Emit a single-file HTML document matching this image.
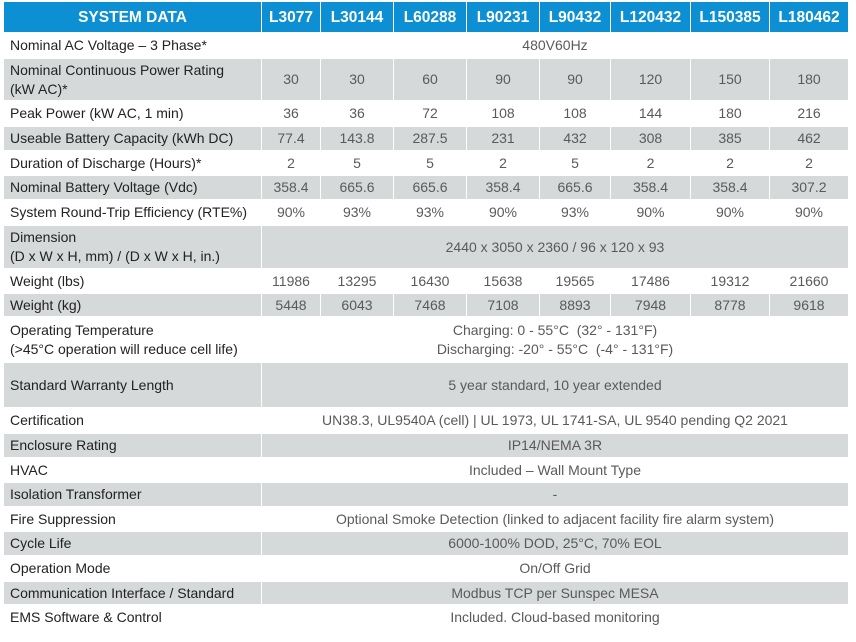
<!DOCTYPE html>
<html><head><meta charset="utf-8"><style>
body{margin:0;width:856px;height:642px;background:#fff;position:relative;overflow:hidden;font-family:"Liberation Sans",sans-serif}
.c{position:absolute;display:flex;align-items:center;box-sizing:border-box;font-size:14px;color:#5a5a5a;justify-content:center;text-align:center;line-height:19px;white-space:nowrap}
.l{justify-content:flex-start;text-align:left;color:#222;padding-left:6px}
.h{background:#0d8fd3;color:#fff;font-weight:bold;font-size:15.5px}
.g{background:#d5d9d9}
</style></head><body>
<script>
var cols=[4,261,320,393,466,539,610,690,769,848];
var heads=["SYSTEM DATA","L3077","L30144","L60288","L90231","L90432","L120432","L150385","L180462"];
var rows=[
[32,57,"Nominal AC Voltage – 3 Phase*",["480V60Hz"]],
[57,100,"Nominal Continuous Power Rating<br>(kW AC)*",["30","30","60","90","90","120","150","180"]],
[100,125,"Peak Power (kW AC, 1 min)",["36","36","72","108","108","144","180","216"]],
[125,150,"Useable Battery Capacity (kWh DC)",["77.4","143.8","287.5","231","432","308","385","462"]],
[150,174,"Duration of Discharge (Hours)*",["2","5","5","2","5","2","2","2"]],
[174,199,"Nominal Battery Voltage (Vdc)",["358.4","665.6","665.6","358.4","665.6","358.4","358.4","307.2"]],
[199,224,"System Round-Trip Efficiency (RTE%)",["90%","93%","93%","90%","93%","90%","90%","90%"]],
[224,268,"Dimension<br>(D x W x H, mm) / (D x W x H, in.)",["2440 x 3050 x 2360 / 96 x 120 x 93"]],
[268,292,"Weight (lbs)",["11986","13295","16430","15638","19565","17486","19312","21660"]],
[292,316,"Weight (kg)",["5448","6043","7468","7108","8893","7948","8778","9618"]],
[316,361,"Operating Temperature<br>(&gt;45°C operation will reduce cell life)",["Charging: 0 - 55°C&nbsp; (32° - 131°F)<br>Discharging: -20° - 55°C&nbsp; (-4° - 131°F)"]],
[361,407,"Standard Warranty Length",["5 year standard, 10 year extended"]],
[407,432,"Certification",["UN38.3, UL9540A (cell) | UL 1973, UL 1741-SA, UL 9540 pending Q2 2021"]],
[432,457,"Enclosure Rating",["IP14/NEMA 3R"]],
[457,481,"HVAC",["Included – Wall Mount Type"]],
[481,506,"Isolation Transformer",["-"]],
[506,530,"Fire Suppression",["Optional Smoke Detection (linked to adjacent facility fire alarm system)"]],
[530,555,"Cycle Life",["6000-100% DOD, 25°C, 70% EOL"]],
[555,580,"Operation Mode",["On/Off Grid"]],
[580,604,"Communication Interface / Standard",["Modbus TCP per Sunspec MESA"]],
[604,629,"EMS Software & Control",["Included. Cloud-based monitoring"]]
];
function cell(x,y,w,h,cls,html){
 var d=document.createElement('div');
 d.className='c '+cls;
 d.style.left=x+'px';d.style.top=y+'px';d.style.width=w+'px';d.style.height=h+'px';
 d.innerHTML=html;
 document.body.appendChild(d);return d;
}
for(var i=0;i<heads.length;i++){
 var d=cell(cols[i]+(i?1:0),2,cols[i+1]-cols[i]-(i?1:0),30,'h',heads[i]);
 
 
}
rows.forEach(function(r,ri){
 var g=(ri%2==1)?'g':'';
 var y=r[0]+2,h=r[1]-r[0]-2;
 var lab=cell(cols[0],y,cols[1]-cols[0],h,'l '+g,r[2]);
 
 
 var v=r[3];
 if(v.length==1){
  var d=cell(cols[1]+1,y,cols[9]-cols[1]-1,h,g,v[0]);
  
  
 } else {
  for(var j=0;j<v.length;j++){
   var d=cell(cols[j+1]+1,y,cols[j+2]-cols[j+1]-1,h,g,v[j]);
   
   
  }
 }
});
</script>
</body></html>
